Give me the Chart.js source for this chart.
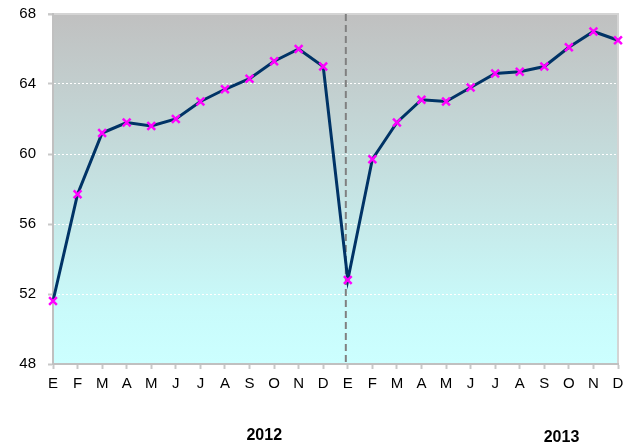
<!DOCTYPE html>
<html>
<head>
<meta charset="utf-8">
<script src="https://cdn.jsdelivr.net/npm/chart.js@4.4.1/dist/chart.umd.min.js"></script>
<style>
html, body { margin: 0; padding: 0; background: #fff; }
</style>
</head>
<body>
<canvas id="grafico" width="626" height="447"></canvas>
<script>
// meses de 2012 y 2013
const meses = ["E","F","M","A","M","J","J","A","S","O","N","D",
               "E","F","M","A","M","J","J","A","S","O","N","D"];
const valores = [51.6, 57.7, 61.2, 61.8, 61.6, 62.0, 63.0, 63.7, 64.3, 65.3, 66.0, 65.0,
                 52.8, 59.7, 61.8, 63.1, 63.0, 63.8, 64.6, 64.7, 65.0, 66.1, 67.0, 66.5];
const anios = ["2012", "2013"];
const ticksY = [48, 52, 56, 60, 64, 68];

// fondo degradado, linea de corte y años
const decoracion = {
    id: "decoracion",
    beforeDatasetsDraw(chart) {
        const { ctx, chartArea: a, scales } = chart;
        ctx.save();
        // linea discontinua entre años
        const x = scales.x.getPixelForValue(11.92);
        ctx.strokeStyle = "#808080";
        ctx.lineWidth = 2;
        ctx.setLineDash([7, 4]);
        ctx.beginPath();
        ctx.moveTo(x, a.top);
        ctx.lineTo(x, a.bottom);
        ctx.stroke();
        ctx.restore();
    },
    beforeDraw(chart) {
        const { ctx, chartArea: a } = chart;
        ctx.save();
        const grad = ctx.createLinearGradient(0, a.top, 0, a.bottom);
        grad.addColorStop(0, "#c0c0c0");
        grad.addColorStop(0.85, "#c9fbfb");
        grad.addColorStop(1, "#ccffff");
        ctx.fillStyle = grad;
        ctx.fillRect(a.left, a.top, a.right - a.left, a.bottom - a.top);
        // marco superior y derecho
        ctx.strokeStyle = "#d4d4d4";
        ctx.lineWidth = 2;
        ctx.beginPath();
        ctx.moveTo(a.left - 5, a.top);
        ctx.lineTo(a.right, a.top);
        ctx.lineTo(a.right, a.bottom);
        ctx.stroke();
        ctx.restore();
    },
    afterDraw(chart) {
        const { ctx, scales } = chart;
        ctx.save();
        ctx.fillStyle = "#000";
        ctx.font = "bold 16px 'Liberation Sans', Arial, sans-serif";
        ctx.textAlign = "center";
        ctx.textBaseline = "middle";
        ctx.fillText(anios[0], scales.x.getPixelForValue(8.6), 436);
        ctx.fillText(anios[1], scales.x.getPixelForValue(20.7), 438);
        ctx.restore();
    }
};

const config = {
    type: "line",
    data: {
        labels: meses,
        datasets: [{
            data: valores,
            borderColor: "#003366",
            borderWidth: 3,
            pointStyle: "crossRot",
            pointRadius: 5.5,
            pointBorderWidth: 2.5,
            pointBorderColor: "#ff00ff",
            pointBackgroundColor: "#ff00ff",
            tension: 0,
        }]
    },
    options: {
        responsive: false,
        animation: false,
        layout: {
            padding: { top: 14, right: 8, left: 0, bottom: 0 }
        },
        plugins: {
            legend: { display: false },
            tooltip: { enabled: false }
        },
        scales: {
            x: {
                offset: false,
                grid: {
                    drawOnChartArea: false,
                    drawTicks: true,
                    tickLength: 5,
                    tickColor: "#c8c8c8",
                    tickWidth: 2,
                },
                border: { color: "#c0c0c0", width: 2 },
                ticks: {
                    color: "#000",
                    padding: 6,
                    maxRotation: 0,
                    autoSkip: false,
                    font: { family: "'Liberation Sans', Arial, sans-serif", size: 15 }
                },
                afterFit: (scale) => {
                    scale.height = 83;
                    scale.paddingLeft = 0;
                    scale.paddingRight = 0;
                }
            },
            y: {
                min: 48,
                max: 68,
                afterBuildTicks: (scale) => {
                    scale.ticks = ticksY.map(v => ({ value: v }));
                },
                grid: {
                    color: (c) => (c.tick && (c.tick.value === 48 || c.tick.value === 68)) ? "rgba(0,0,0,0)" : "#ffffff",
                    lineWidth: 1,
                    tickLength: 5,
                    tickColor: "#c8c8c8",
                    tickWidth: 2,
                },
                border: { color: "#c0c0c0", width: 2, dash: [2, 2] },
                ticks: {
                    color: "#000",
                    padding: 12,
                    font: { family: "'Liberation Sans', Arial, sans-serif", size: 15 }
                },
                afterFit: (scale) => {
                    scale.width = 53;
                    scale.paddingTop = 0;
                    scale.paddingBottom = 0;
                }
            }
        }
    },
    plugins: [decoracion]
};

new Chart(document.getElementById("grafico").getContext("2d"), config);
</script>
</body>
</html>
